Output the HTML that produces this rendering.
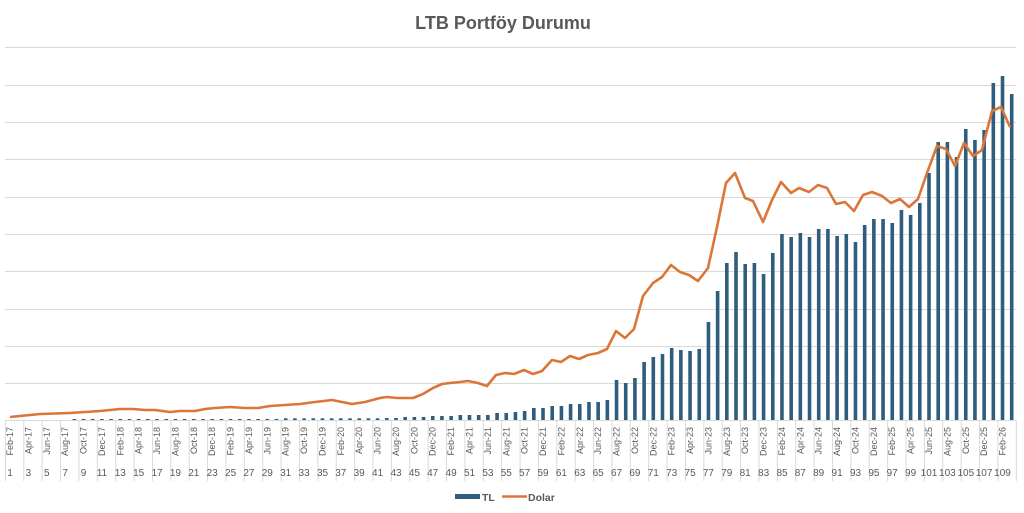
<!DOCTYPE html>
<html><head><meta charset="utf-8"><style>
html,body{margin:0;padding:0;background:#fff;width:1024px;height:513px;overflow:hidden}
svg{display:block}
text{font-family:"Liberation Sans",sans-serif;fill:#595959}
</style></head><body>
<svg id="s" width="1024" height="513" viewBox="0 0 1024 513" xmlns="http://www.w3.org/2000/svg">
<text x="503" y="29" text-anchor="middle" style="font-size:18px;font-weight:bold">LTB Portföy Durumu</text>
<g id="grid" stroke="#d9d9d9" stroke-width="1"></g>
<g id="bars" fill="#2e5d7e"></g>
<polyline id="line" fill="none" stroke="#dc7538" stroke-width="2.6" stroke-linejoin="round"/>
<g style="font-size:9px" text-anchor="end" transform="rotate(-90)">
<text x="-427" y="13">Feb-17</text><text x="-427" y="31.4">Apr-17</text><text x="-427" y="49.8">Jun-17</text><text x="-427" y="68.1">Aug-17</text><text x="-427" y="86.5">Oct-17</text><text x="-427" y="104.9">Dec-17</text><text x="-427" y="123.3">Feb-18</text><text x="-427" y="141.7">Apr-18</text><text x="-427" y="160">Jun-18</text><text x="-427" y="178.4">Aug-18</text><text x="-427" y="196.8">Oct-18</text><text x="-427" y="215.2">Dec-18</text><text x="-427" y="233.6">Feb-19</text><text x="-427" y="251.9">Apr-19</text><text x="-427" y="270.3">Jun-19</text><text x="-427" y="288.7">Aug-19</text><text x="-427" y="307.1">Oct-19</text><text x="-427" y="325.5">Dec-19</text><text x="-427" y="343.8">Feb-20</text><text x="-427" y="362.2">Apr-20</text><text x="-427" y="380.6">Jun-20</text><text x="-427" y="399">Aug-20</text><text x="-427" y="417.4">Oct-20</text><text x="-427" y="435.7">Dec-20</text><text x="-427" y="454.1">Feb-21</text><text x="-427" y="472.5">Apr-21</text><text x="-427" y="490.9">Jun-21</text><text x="-427" y="509.3">Aug-21</text><text x="-427" y="527.6">Oct-21</text><text x="-427" y="546">Dec-21</text><text x="-427" y="564.4">Feb-22</text><text x="-427" y="582.8">Apr-22</text><text x="-427" y="601.2">Jun-22</text><text x="-427" y="619.5">Aug-22</text><text x="-427" y="637.9">Oct-22</text><text x="-427" y="656.3">Dec-22</text><text x="-427" y="674.7">Feb-23</text><text x="-427" y="693.1">Apr-23</text><text x="-427" y="711.4">Jun-23</text><text x="-427" y="729.8">Aug-23</text><text x="-427" y="748.2">Oct-23</text><text x="-427" y="766.6">Dec-23</text><text x="-427" y="785">Feb-24</text><text x="-427" y="803.3">Apr-24</text><text x="-427" y="821.7">Jun-24</text><text x="-427" y="840.1">Aug-24</text><text x="-427" y="858.5">Oct-24</text><text x="-427" y="876.9">Dec-24</text><text x="-427" y="895.2">Feb-25</text><text x="-427" y="913.6">Apr-25</text><text x="-427" y="932">Jun-25</text><text x="-427" y="950.4">Aug-25</text><text x="-427" y="968.8">Oct-25</text><text x="-427" y="987.1">Dec-25</text><text x="-427" y="1005.5">Feb-26</text>
</g>
<g style="font-size:10px" text-anchor="middle">
<text x="10" y="476">1</text><text x="28.4" y="476">3</text><text x="46.8" y="476">5</text><text x="65.1" y="476">7</text><text x="83.5" y="476">9</text><text x="101.9" y="476">11</text><text x="120.3" y="476">13</text><text x="138.7" y="476">15</text><text x="157" y="476">17</text><text x="175.4" y="476">19</text><text x="193.8" y="476">21</text><text x="212.2" y="476">23</text><text x="230.6" y="476">25</text><text x="248.9" y="476">27</text><text x="267.3" y="476">29</text><text x="285.7" y="476">31</text><text x="304.1" y="476">33</text><text x="322.5" y="476">35</text><text x="340.8" y="476">37</text><text x="359.2" y="476">39</text><text x="377.6" y="476">41</text><text x="396" y="476">43</text><text x="414.4" y="476">45</text><text x="432.7" y="476">47</text><text x="451.1" y="476">49</text><text x="469.5" y="476">51</text><text x="487.9" y="476">53</text><text x="506.3" y="476">55</text><text x="524.6" y="476">57</text><text x="543" y="476">59</text><text x="561.4" y="476">61</text><text x="579.8" y="476">63</text><text x="598.2" y="476">65</text><text x="616.5" y="476">67</text><text x="634.9" y="476">69</text><text x="653.3" y="476">71</text><text x="671.7" y="476">73</text><text x="690.1" y="476">75</text><text x="708.4" y="476">77</text><text x="726.8" y="476">79</text><text x="745.2" y="476">81</text><text x="763.6" y="476">83</text><text x="782" y="476">85</text><text x="800.3" y="476">87</text><text x="818.7" y="476">89</text><text x="837.1" y="476">91</text><text x="855.5" y="476">93</text><text x="873.9" y="476">95</text><text x="892.2" y="476">97</text><text x="910.6" y="476">99</text><text x="929" y="476">101</text><text x="947.4" y="476">103</text><text x="965.8" y="476">105</text><text x="984.1" y="476">107</text><text x="1002.5" y="476">109</text>
</g>
<rect x="455" y="494" width="25" height="5" fill="#2e5d7e"/>
<text x="482" y="501" style="font-size:10.5px;font-weight:bold">TL</text>
<line x1="502" y1="496.5" x2="527" y2="496.5" stroke="#dc7538" stroke-width="2.6"/>
<text x="528" y="501" style="font-size:10.5px;font-weight:bold">Dolar</text>
</svg>
<script>
var NS="http://www.w3.org/2000/svg";
var g=document.getElementById('grid');
[47,85,122,159,197,234,271,309,346,383,420].forEach(function(y){var l=document.createElementNS(NS,'line');l.setAttribute('x1',5);l.setAttribute('x2',1016);l.setAttribute('y1',y+0.5);l.setAttribute('y2',y+0.5);g.appendChild(l);});
for(var k=0;k<=55;k++){var x=5.4+18.38*k;if(x>1017)x=1016;var l=document.createElementNS(NS,'line');l.setAttribute('x1',x);l.setAttribute('x2',x);l.setAttribute('y1',420);l.setAttribute('y2',481);g.appendChild(l);}
var tops=[];
for(var i=1;i<=7;i++)tops.push(420);
for(var i=8;i<=30;i++)tops.push(419);
for(var i=31;i<=41;i++)tops.push(418.3);
tops=tops.concat([418,418,417,417,417,416,416,416,415,415,415,415,413,413,412,411,408,408,406,406,404,404,402,402,400,380,383,378,362,357,354,348,
350,351,349,322,291,263,252,264,263,274,253,234,237,233,237,229,229,236,234,242,225,219,219,223,210,215,203,173,142,142,157,129,140,130,83,76,94]);
var b=document.getElementById('bars');
tops.forEach(function(t,j){if(t>=420)return;var x=10+j*9.19;var r=document.createElementNS(NS,'rect');r.setAttribute('x',x-1.8);r.setAttribute('width',3.6);r.setAttribute('y',t);r.setAttribute('height',420-t);b.appendChild(r);});
var pts=[[10,417],[40,414],[70,413],[100,411],[120,409],[133,409],[145,410],[155,410],[170,412],[180,411],[195,411],[205,409],[215,408],[230,407],[245,408],[258,408],[270,406],[285,405],[300,404],[315,402],[332,400],[342,402],[352,404],[365,402],[380,398],[387,397],[397,398],[413,398],[423,394],[433,388],[442,384],[450,383],[460,382],[468,381],[478,383],[487,386],[496,375],[505,373],[514,374],[524,370],[533,374],[542,371],[552,360],[561,362],[570,356],[579,359],[588,355],[598,353],[607,349],[616,331],[625,338],[634,329],[643,296],[653,283],[662,277],[671,265],[680,272],[689,275],[698,281],[708,268],[717,227],[726,183],[735,173],[745,198],[753,201],[763,222],[772,200],[781,182],[791,193],[799,188],[809,192],[818,185],[827,188],[836,204],[845,202],[854,211],[863,195],[872,192],[882,196],[891,203],[900,199],[909,207],[918,199],[927,173],[937,146],[946,149],[955,166],[964,143],[973,156],[982,150],[992,111],[1001,107],[1010,127]];
document.getElementById('line').setAttribute('points',pts.map(function(p){return p.join(',')}).join(' '));
</script>
</body></html>
